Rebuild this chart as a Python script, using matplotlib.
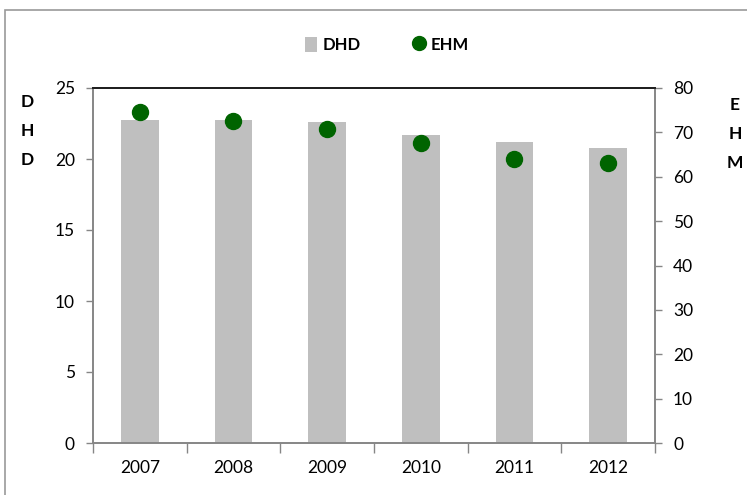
"""DHD bars with EHM markers on a secondary axis."""

import matplotlib
matplotlib.use("Agg")
import matplotlib.pyplot as plt
import numpy as np
from matplotlib.lines import Line2D
from matplotlib.patches import Patch, Rectangle

years = ["2007", "2008", "2009", "2010", "2011", "2012"]
dhd = [22.75, 22.75, 22.6, 21.7, 21.2, 20.8]
ehm = [74.7, 72.6, 70.7, 67.5, 64.0, 63.2]

BAR_COLOR = "#bfbfbf"
DOT_COLOR = "#006400"
AXIS_COLOR = "#868686"

plt.rcParams["font.family"] = ["Lato", "DejaVu Sans"]

fig = plt.figure(figsize=(7.47, 4.95), dpi=100)
# outer chart frame, runs off the right and bottom edges
fig.patches.append(Rectangle((5 / 747, -0.05), 1.1, 1 - 10 / 495 + 0.05,
                             transform=fig.transFigure, fill=False,
                             edgecolor="#9a9a9a", linewidth=1.2))

ax = fig.add_axes([93 / 747, 52 / 495, (655 - 93) / 747, (443 - 88) / 495])
ax2 = ax.twinx()

x = np.arange(len(years))
ax.bar(x, dhd, width=0.4, color=BAR_COLOR, zorder=2)
ax2.scatter(x, ehm, s=11.5 ** 2, color=DOT_COLOR, zorder=3)

ax.set_xlim(-0.5, len(years) - 0.5)
ax.set_ylim(0, 25)
ax2.set_ylim(0, 80)
ax.set_yticks(np.arange(0, 26, 5))
ax2.set_yticks(np.arange(0, 81, 10))

# year labels centred, tick marks between categories
ax.set_xticks(x)
ax.set_xticklabels(years)
ax.tick_params(axis="x", which="major", length=0, pad=12)
ax.set_xticks(np.arange(-0.5, len(years)), minor=True)
ax.tick_params(axis="x", which="minor", length=7, color=AXIS_COLOR, width=1)

for a in (ax, ax2):
    a.tick_params(axis="y", length=5, color=AXIS_COLOR, width=1,
                  labelsize=12.5, pad=8)
    a.tick_params(axis="x", labelsize=12.5)
    for side in ("left", "right", "bottom"):
        a.spines[side].set_color(AXIS_COLOR)
        a.spines[side].set_linewidth(1.2)
    a.spines["top"].set_color("#202020")
    a.spines["top"].set_linewidth(1.4)

# stacked axis titles
for i, ch in enumerate("DHD"):
    fig.text(27 / 747, 1 - (102 + 29 * i) / 495, ch, fontsize=12.5,
             fontweight="bold", ha="center", va="center")
for i, ch in enumerate("EHM"):
    fig.text(735 / 747, 1 - (105 + 29 * i) / 495, ch, fontsize=12.5,
             fontweight="bold", ha="center", va="center")

handles = [
    Patch(facecolor=BAR_COLOR, edgecolor="none"),
    Line2D([], [], marker="o", linestyle="none", color=DOT_COLOR,
           markersize=10),
]
fig.legend(handles, ["DHD", "EHM"], loc="center", ncol=2,
           bbox_to_anchor=(387 / 747, 1 - 45 / 495), frameon=False,
           prop={"weight": "bold", "size": 12}, handlelength=0.7,
           handleheight=1.0, handletextpad=0.3, columnspacing=3.2)

fig.savefig("out.png", dpi=100)
plt.close(fig)
